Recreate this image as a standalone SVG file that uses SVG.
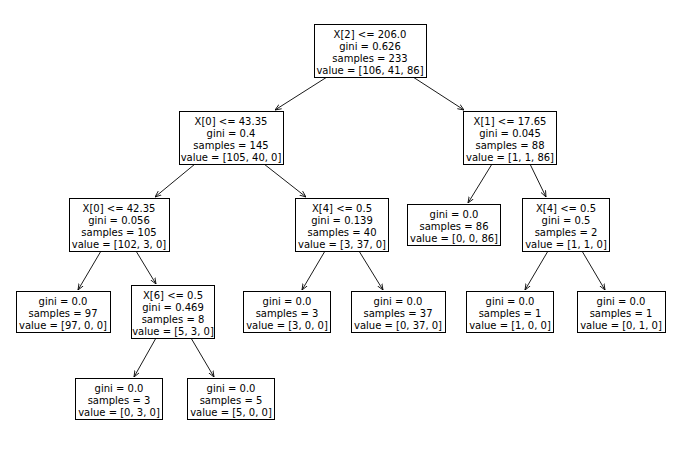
<svg xmlns="http://www.w3.org/2000/svg" width="683" height="449" viewBox="0 0 683 449">
<defs><marker id="ah" viewBox="0 0 10 10" refX="10" refY="5" markerWidth="7" markerHeight="7" orient="auto"><path d="M0,1 L10,5 L0,9" fill="none" stroke="#000" stroke-width="1.3"/></marker></defs>
<style>rect{fill:#fff;stroke:#000;stroke-width:1}text{font-family:"DejaVu Sans",sans-serif;font-size:10px;text-anchor:middle;fill:#000}line{stroke:#000;stroke-width:0.9;marker-end:url(#ah)}</style>
<rect x="0" y="0" width="683" height="449" style="stroke:none"/>
<g id="connectors">
<line x1="327" y1="77" x2="275" y2="110"/><line x1="413" y1="77" x2="464" y2="110"/>
<line x1="195" y1="164" x2="155" y2="197"/><line x1="264" y1="164" x2="306" y2="197"/>
<line x1="492" y1="164" x2="468" y2="203"/><line x1="530" y1="164" x2="546" y2="197"/>
<line x1="101" y1="251" x2="78" y2="290"/><line x1="136" y1="251" x2="156" y2="284"/>
<line x1="325" y1="251" x2="302" y2="290"/><line x1="359" y1="251" x2="383" y2="290"/>
<line x1="548" y1="251" x2="525" y2="290"/><line x1="582" y1="251" x2="605" y2="290"/>
<line x1="156" y1="338" x2="134" y2="377"/><line x1="191" y1="338" x2="214" y2="377"/>
</g>
<g id="root"><rect x="314.5" y="24.5" width="112" height="53"/><text x="370" y="38">X[2] &lt;= 206.0</text><text x="370" y="50">gini = 0.626</text><text x="370" y="62">samples = 233</text><text x="370" y="74">value = [106, 41, 86]</text></g>
<g id="A"><rect x="179.5" y="111.5" width="104" height="53"/><text x="231" y="125">X[0] &lt;= 43.35</text><text x="231" y="137">gini = 0.4</text><text x="231" y="149">samples = 145</text><text x="231" y="161">value = [105, 40, 0]</text></g>
<g id="B"><rect x="463.5" y="111.5" width="93" height="53"/><text x="510" y="125">X[1] &lt;= 17.65</text><text x="510" y="137">gini = 0.045</text><text x="510" y="149">samples = 88</text><text x="510" y="161">value = [1, 1, 86]</text></g>
<g id="C"><rect x="69.5" y="198.5" width="100" height="53"/><text x="119" y="212">X[0] &lt;= 42.35</text><text x="119" y="224">gini = 0.056</text><text x="119" y="236">samples = 105</text><text x="119" y="248">value = [102, 3, 0]</text></g>
<g id="D"><rect x="295.5" y="198.5" width="93" height="53"/><text x="342" y="212">X[4] &lt;= 0.5</text><text x="342" y="224">gini = 0.139</text><text x="342" y="236">samples = 40</text><text x="342" y="248">value = [3, 37, 0]</text></g>
<g id="E"><rect x="407.5" y="204.5" width="93" height="41"/><text x="454" y="218">gini = 0.0</text><text x="454" y="230">samples = 86</text><text x="454" y="242">value = [0, 0, 86]</text></g>
<g id="F"><rect x="522.5" y="198.5" width="87" height="53"/><text x="566" y="212">X[4] &lt;= 0.5</text><text x="566" y="224">gini = 0.5</text><text x="566" y="236">samples = 2</text><text x="566" y="248">value = [1, 1, 0]</text></g>
<g id="G"><rect x="16.5" y="291.5" width="94" height="41"/><text x="63" y="305">gini = 0.0</text><text x="63" y="317">samples = 97</text><text x="63" y="329">value = [97, 0, 0]</text></g>
<g id="H"><rect x="131.5" y="285.5" width="83" height="53"/><text x="173" y="299">X[6] &lt;= 0.5</text><text x="173" y="311">gini = 0.469</text><text x="173" y="323">samples = 8</text><text x="173" y="335">value = [5, 3, 0]</text></g>
<g id="I"><rect x="243.5" y="291.5" width="87" height="41"/><text x="287" y="305">gini = 0.0</text><text x="287" y="317">samples = 3</text><text x="287" y="329">value = [3, 0, 0]</text></g>
<g id="J"><rect x="351.5" y="291.5" width="94" height="41"/><text x="398" y="305">gini = 0.0</text><text x="398" y="317">samples = 37</text><text x="398" y="329">value = [0, 37, 0]</text></g>
<g id="K"><rect x="466.5" y="291.5" width="87" height="41"/><text x="510" y="305">gini = 0.0</text><text x="510" y="317">samples = 1</text><text x="510" y="329">value = [1, 0, 0]</text></g>
<g id="L"><rect x="577.5" y="291.5" width="88" height="41"/><text x="621" y="305">gini = 0.0</text><text x="621" y="317">samples = 1</text><text x="621" y="329">value = [0, 1, 0]</text></g>
<g id="M"><rect x="75.5" y="378.5" width="87" height="41"/><text x="119" y="392">gini = 0.0</text><text x="119" y="404">samples = 3</text><text x="119" y="416">value = [0, 3, 0]</text></g>
<g id="N"><rect x="187.5" y="378.5" width="87" height="41"/><text x="231" y="392">gini = 0.0</text><text x="231" y="404">samples = 5</text><text x="231" y="416">value = [5, 0, 0]</text></g>
</svg>
